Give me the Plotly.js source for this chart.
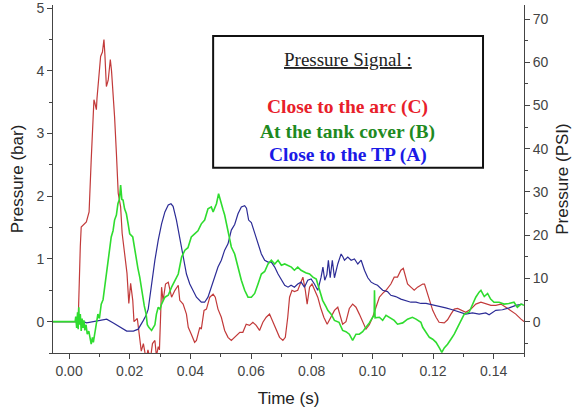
<!DOCTYPE html>
<html>
<head>
<meta charset="utf-8">
<script src="https://cdn.plot.ly/plotly-3.0.1.min.js"></script>
<style>html,body{margin:0;padding:0;background:#fff;}#chart{width:581px;height:412px;}</style>
</head>
<body>
<div id="chart"></div>
<script>
// ---- data (time in s, pressure in bar) ----
const redT = [-0.0053,0.003,0.0037,0.004,0.0057,0.0066,0.0073,0.0079,0.0082,0.0085,0.009,0.0092,0.0099,0.0104,0.011,0.0115,0.0118,0.0123,0.0129,0.0136,0.014,0.0145,0.015,0.0156,0.0162,0.017,0.0175,0.0183,0.0191,0.0197,0.0203,0.021,0.0214,0.0225,0.023,0.0238,0.0245,0.0254,0.026,0.0268,0.0275,0.0283,0.0288,0.0294,0.0298,0.0302,0.0305,0.031,0.0318,0.0327,0.0332,0.0338,0.0349,0.036,0.0365,0.0376,0.0387,0.0393,0.0403,0.0414,0.042,0.0431,0.0436,0.0445,0.0453,0.0464,0.0475,0.0482,0.0491,0.0502,0.0513,0.0524,0.0535,0.0546,0.0563,0.0573,0.0584,0.0595,0.0606,0.0617,0.0628,0.0639,0.065,0.0661,0.0672,0.0683,0.0694,0.0705,0.0713,0.0721,0.0727,0.0735,0.0743,0.0754,0.0765,0.0771,0.0779,0.0785,0.0793,0.0801,0.081,0.082,0.0829,0.084,0.0851,0.0864,0.0875,0.0886,0.0897,0.0902,0.0913,0.0924,0.0935,0.0946,0.0957,0.0968,0.0979,0.099,0.1001,0.1012,0.1023,0.1034,0.1045,0.1061,0.1072,0.1083,0.1094,0.1102,0.111,0.1116,0.1127,0.1138,0.1149,0.1166,0.1172,0.1179,0.1188,0.1199,0.121,0.122,0.1237,0.1248,0.1259,0.127,0.1281,0.1292,0.1308,0.1325,0.1341,0.1358,0.1374,0.1391,0.1407,0.1424,0.144,0.1457,0.1473,0.149,0.15];
const redP = [0,0,1.2,1.51,1.59,1.75,2.58,3.17,3.54,3.49,3.38,3.56,3.91,4.23,4.3,4.5,4.27,3.75,3.85,4.18,4.0,3.65,3.27,2.69,2.05,1.83,1.41,1.09,0.77,0.29,0.61,0.34,0.0,0.05,-0.15,-0.47,-0.35,-0.6,-0.45,-0.6,-0.35,-0.3,-0.55,-0.4,-0.45,0.2,0.55,0.33,0.6,0.63,0.5,0.39,0.5,0.58,0.34,0.28,0.12,-0.09,-0.2,-0.33,-0.3,-0.09,-0.12,0.18,0.2,0.39,0.44,0.39,0.2,0.07,-0.14,-0.25,-0.3,-0.25,-0.17,-0.17,-0.04,-0.06,-0.01,-0.06,-0.14,-0.01,0.07,0.12,0.0,-0.14,-0.25,-0.3,-0.25,0.07,0.39,0.5,0.48,0.5,0.66,0.71,0.5,0.28,0.55,0.6,0.5,0.39,0.23,0.07,-0.04,0.07,0.18,0.23,0.07,-0.04,0.0,0.21,0.28,0.23,0.12,-0.01,-0.12,-0.05,0.07,0.23,0.39,0.45,0.5,0.6,0.71,0.71,0.82,0.85,0.71,0.6,0.55,0.5,0.55,0.6,0.6,0.5,0.34,0.18,0.07,-0.01,-0.02,0.03,0.12,0.2,0.21,0.18,0.15,0.2,0.28,0.31,0.28,0.26,0.26,0.28,0.23,0.18,0.12,0.04,0.0];

const greenT = [-0.0053,0.002,0.0022,0.0025,0.0028,0.003,0.0032,0.0034,0.0037,0.004,0.0043,0.0046,0.0049,0.0052,0.0056,0.006,0.0065,0.0069,0.0073,0.0077,0.008,0.0088,0.0095,0.01,0.0106,0.0112,0.0117,0.0122,0.0128,0.0133,0.0139,0.0145,0.015,0.0156,0.0161,0.0166,0.017,0.0174,0.0178,0.0183,0.0189,0.0195,0.02,0.021,0.0216,0.0221,0.0227,0.0233,0.0238,0.0243,0.0248,0.0254,0.0258,0.0263,0.0272,0.0277,0.0283,0.0288,0.0294,0.03,0.0305,0.0316,0.0327,0.0338,0.0349,0.036,0.0371,0.0382,0.0392,0.0403,0.0414,0.0425,0.0436,0.0447,0.0458,0.0469,0.0475,0.0486,0.0493,0.0499,0.0508,0.0513,0.0524,0.0535,0.0546,0.0557,0.0568,0.0579,0.059,0.0601,0.0612,0.0623,0.0634,0.0645,0.0656,0.0667,0.0678,0.0689,0.07,0.0711,0.0722,0.0733,0.0743,0.0754,0.0765,0.078,0.0793,0.0804,0.0815,0.0826,0.0836,0.0848,0.0853,0.0864,0.0875,0.089,0.0902,0.0913,0.0924,0.0935,0.0946,0.0957,0.0968,0.0979,0.099,0.1001,0.1006,0.1007,0.1009,0.1023,0.1034,0.1045,0.1061,0.1072,0.1083,0.11,0.1116,0.1132,0.1144,0.116,0.1166,0.1177,0.1188,0.1199,0.121,0.122,0.1229,0.1237,0.1248,0.1259,0.127,0.1281,0.1292,0.1303,0.1319,0.133,0.1341,0.1352,0.1358,0.1369,0.138,0.139,0.1401,0.1418,0.1434,0.145,0.1467,0.1478,0.149,0.15];
const greenP = [0,0,0.08,-0.1,0.15,-0.12,0.23,-0.05,0.12,-0.15,0.05,-0.1,0.02,-0.14,-0.05,-0.2,-0.15,-0.3,-0.36,-0.25,-0.33,-0.09,0.12,0.05,0.28,0.35,0.55,0.7,0.92,1.1,1.35,1.45,1.62,1.7,1.88,1.95,2.18,1.95,1.94,1.8,1.72,1.55,1.4,1.35,1.15,0.98,0.85,0.71,0.55,0.39,0.25,0.12,-0.05,-0.09,-0.14,-0.1,-0.05,0.12,0.23,0.2,0.28,0.39,0.42,0.55,0.66,0.76,1.03,1.14,1.18,1.35,1.4,1.45,1.56,1.62,1.8,1.83,1.75,1.88,2.04,1.95,1.78,1.7,1.46,1.19,1.08,0.87,0.66,0.5,0.39,0.39,0.45,0.6,0.76,0.8,0.92,0.98,0.92,0.98,0.9,0.92,0.9,0.87,0.82,0.87,0.82,0.78,0.76,0.71,0.68,0.5,0.34,0.23,0.18,0.12,0.02,-0.01,-0.14,-0.16,-0.2,-0.3,-0.2,-0.2,-0.16,-0.09,-0.02,0.07,0.1,0.5,0.06,0.07,0.02,0.1,0.05,0.02,-0.04,-0.02,0.04,0.07,0.04,-0.01,-0.09,-0.17,-0.25,-0.28,-0.33,-0.41,-0.49,-0.42,-0.36,-0.28,-0.2,-0.09,0.02,0.12,0.15,0.28,0.39,0.47,0.5,0.4,0.45,0.36,0.31,0.31,0.28,0.29,0.31,0.23,0.28,0.26];

const blueT = [-0.0053,0.0,0.0046,0.0058,0.008,0.0102,0.0124,0.0146,0.0168,0.019,0.0212,0.0228,0.0245,0.0254,0.0261,0.0272,0.0283,0.0294,0.0305,0.0316,0.0327,0.0336,0.0343,0.0354,0.0365,0.0376,0.0387,0.0398,0.0409,0.042,0.0436,0.0447,0.0458,0.0469,0.048,0.0491,0.0502,0.0513,0.0524,0.0535,0.0546,0.0557,0.0568,0.0579,0.0585,0.0592,0.0601,0.0612,0.0623,0.0634,0.0645,0.0656,0.0667,0.0678,0.0689,0.07,0.0711,0.0722,0.0732,0.0743,0.0754,0.0765,0.0776,0.0787,0.0798,0.0809,0.082,0.0831,0.0837,0.0843,0.085,0.0855,0.0861,0.0868,0.0875,0.0886,0.0897,0.0903,0.0908,0.0919,0.093,0.0941,0.0952,0.0963,0.0974,0.0985,0.0996,0.1007,0.1017,0.1034,0.105,0.1061,0.1077,0.1094,0.111,0.1127,0.1144,0.116,0.1177,0.1199,0.122,0.1242,0.1264,0.1286,0.1308,0.133,0.1352,0.1374,0.1385,0.1407,0.1429,0.1451,0.1473,0.1495];
const blueP = [0,0,0,-0.02,0,0.02,0.04,-0.02,-0.09,-0.15,-0.15,-0.12,0.02,0.1,0.2,0.6,0.98,1.3,1.56,1.75,1.86,1.88,1.84,1.62,1.35,1.03,0.76,0.6,0.5,0.39,0.31,0.31,0.39,0.55,0.71,0.87,0.98,1.14,1.24,1.46,1.55,1.72,1.83,1.85,1.81,1.62,1.58,1.4,1.24,1.08,0.98,0.95,0.95,0.87,0.76,0.66,0.58,0.55,0.58,0.55,0.6,0.63,0.55,0.66,0.68,0.6,0.5,0.71,0.87,0.66,0.75,0.98,0.7,0.98,0.7,0.92,1.08,1.03,0.98,1.03,0.98,1.0,0.92,0.98,0.82,0.7,0.63,0.6,0.58,0.5,0.48,0.42,0.4,0.36,0.34,0.31,0.31,0.29,0.29,0.27,0.24,0.22,0.19,0.15,0.12,0.14,0.12,0.14,0.11,0.18,0.19,0.22,0.26,0.28];

const xTickVals = [0, 0.02, 0.04, 0.06, 0.08, 0.10, 0.12, 0.14];
const xTickText = ['0.00','0.02','0.04','0.06','0.08','0.10','0.12','0.14'];
const barTickVals = [0, 1, 2, 3, 4, 5];
const psiTickVals = [0, 10, 20, 30, 40, 50, 60, 70];
const legendTitle = 'Pressure Signal :';
const seriesNames = ['Close to the arc (C)', 'At the tank cover (B)', 'Close to the TP (A)'];
const seriesColors = ['#e8202a', '#1f8a1f', '#1a1ae6'];
const lineColors = ['#c23a3a', '#2fdc2f', '#2c2c96'];
const barRange = [-0.5, 5.05];
const BAR_TO_PSI = 14.5038;

const tickFont = {family: 'Liberation Sans, Arial, sans-serif', size: 14, color: '#444'};
const titleFont = {family: 'Liberation Sans, Arial, sans-serif', size: 17, color: '#222'};
const serif = 'Liberation Serif, Times New Roman, serif';

const traces = [
  {x: redT, y: redP, name: seriesNames[0], mode: 'lines', line: {color: lineColors[0], width: 1.2}},
  {x: blueT, y: blueP, name: seriesNames[2], mode: 'lines', line: {color: lineColors[2], width: 1.2}},
  {x: greenT, y: greenP, name: seriesNames[1], mode: 'lines', line: {color: lineColors[1], width: 1.6}},
  // empty trace so the PSI axis (yaxis2) is created and drawn
  {x: [], y: [], yaxis: 'y2', mode: 'lines', showlegend: false, hoverinfo: 'skip'}
];

const layout = {
  width: 581, height: 412,
  margin: {l: 53, r: 57, t: 5, b: 59},
  paper_bgcolor: '#fff', plot_bgcolor: '#fff',
  showlegend: false,
  font: {family: 'Liberation Sans, Arial, sans-serif'},
  xaxis: {
    range: [-0.0053, 0.15], tickvals: xTickVals, ticktext: xTickText,
    showgrid: false, zeroline: false, showline: true, linecolor: '#444', linewidth: 1,
    ticks: 'outside', ticklen: 5, tickcolor: '#444', tickfont: tickFont,
    minor: {dtick: 0.01, tick0: 0, ticks: 'outside', ticklen: 3, tickcolor: '#444', showgrid: false},
    title: {text: 'Time (s)', font: titleFont, standoff: 14},
    automargin: false
  },
  yaxis: {
    range: barRange, tickvals: barTickVals,
    showgrid: false, zeroline: false, showline: true, linecolor: '#444', linewidth: 1,
    ticks: 'outside', ticklen: 5, tickcolor: '#444', tickfont: tickFont,
    minor: {dtick: 0.5, tick0: 0, ticks: 'outside', ticklen: 3, tickcolor: '#444', showgrid: false},
    title: {text: 'Pressure (bar)', font: titleFont, standoff: 8},
    automargin: false
  },
  yaxis2: {
    overlaying: 'y', side: 'right', anchor: 'x',
    range: [barRange[0] * BAR_TO_PSI, barRange[1] * BAR_TO_PSI], tickvals: psiTickVals,
    showgrid: false, zeroline: false, showline: true, linecolor: '#444', linewidth: 1,
    ticks: 'outside', ticklen: 5, tickcolor: '#444', tickfont: tickFont,
    minor: {dtick: 5, tick0: 0, ticks: 'outside', ticklen: 3, tickcolor: '#444', showgrid: false},
    title: {text: 'Pressure (PSI)', font: titleFont, standoff: 8},
    automargin: false
  },
  shapes: [{type: 'rect', xref: 'paper', yref: 'paper', x0: 0.340, x1: 0.913, y0: 0.532, y1: 0.911,
            line: {color: '#111', width: 2}, fillcolor: 'rgba(0,0,0,0)'}],
  annotations: [
    {xref: 'paper', yref: 'paper', x: 0.626, y: 0.842, xanchor: 'center', yanchor: 'middle',
     text: '<u>' + legendTitle + '</u>', showarrow: false,
     font: {family: serif, size: 19, color: '#222'}},
    {xref: 'paper', yref: 'paper', x: 0.626, y: 0.707, xanchor: 'center', yanchor: 'middle',
     text: '<b>' + seriesNames[0] + '</b>', showarrow: false,
     font: {family: serif, size: 19.5, color: seriesColors[0]}},
    {xref: 'paper', yref: 'paper', x: 0.626, y: 0.635, xanchor: 'center', yanchor: 'middle',
     text: '<b>' + seriesNames[1] + '</b>', showarrow: false,
     font: {family: serif, size: 19.5, color: seriesColors[1]}},
    {xref: 'paper', yref: 'paper', x: 0.626, y: 0.569, xanchor: 'center', yanchor: 'middle',
     text: '<b>' + seriesNames[2] + '</b>', showarrow: false,
     font: {family: serif, size: 19.5, color: seriesColors[2]}}
  ]
};

Plotly.newPlot('chart', traces, layout, {staticPlot: true, displayModeBar: false});
</script>
</body>
</html>
